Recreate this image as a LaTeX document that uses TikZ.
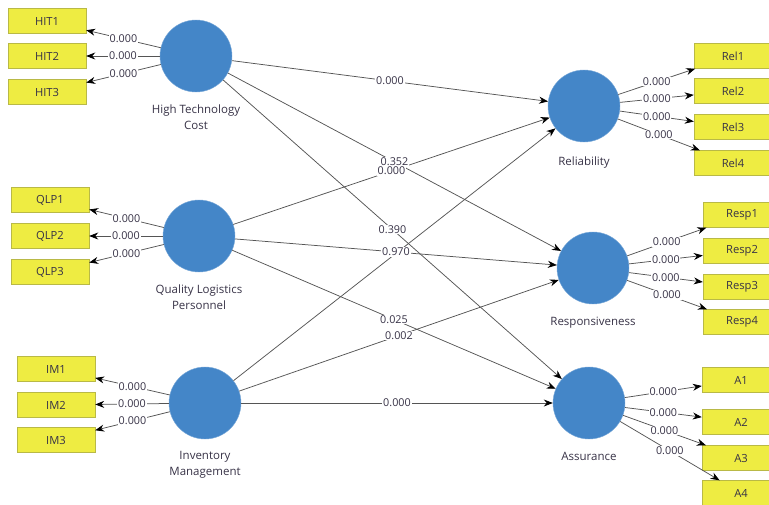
\documentclass[tikz,border=0pt]{standalone}
\usepackage{fontspec}
\setmainfont{Open Sans}
\usetikzlibrary{positioning,arrows.meta}
\definecolor{lvblue}{RGB}{68,134,200}
\definecolor{mvyellow}{RGB}{238,236,66}
\definecolor{mvborder}{RGB}{185,185,70}
\definecolor{pathgray}{RGB}{85,85,85}
\definecolor{txtgray}{RGB}{55,50,70}
\tikzset{
    latent/.style={circle, fill=lvblue, draw=lvblue!70, minimum size=72pt, inner sep=0pt},
    manifest/.style={rectangle, fill=mvyellow, draw=mvborder, minimum width=78pt, minimum height=25pt, inner sep=0pt, text=txtgray, font=\fontsize{11.2}{12}\selectfont},
    lvname/.style={align=center, inner sep=0pt, text=txtgray, font=\fontsize{11.5}{16}\selectfont},
    pval/.style={fill=white, inner sep=0.8pt, text=txtgray, font=\fontsize{10.8}{12}\selectfont},
    load/.style={draw=pathgray, line width=0.75pt, -{Stealth[length=9pt,width=7pt,black]}},
}
\begin{document}
\begin{tikzpicture}[x=1pt,y=-1pt]
    % Fix the canvas
    \useasboundingbox (0,0) rectangle (769,504);

    % Draw latent variables
    \node[latent] (htc) at (196,56) {};
    \node[latent] (qlp) at (199,236) {};
    \node[latent] (im) at (205,403) {};
    \node[latent] (rel) at (584,106) {};
    \node[latent] (resp) at (593,268) {};
    \node[latent] (assu) at (589,403) {};

    % Add names
    \node[lvname, below=12pt of htc] (htcname) {High Technology\\Cost};
    \node[lvname, below=12pt of qlp] (qlpname) {Quality Logistics\\Personnel};
    \node[lvname, below=12pt of im] (imname) {Inventory\\Management};
    \node[lvname, below=14pt of rel] (relname) {Reliability};
    \node[lvname, below=13pt of resp] (respname) {Responsiveness};
    \node[lvname, below=13pt of assu] (assuname) {Assurance};

    % Draw indicators
    \foreach \i/\y in {1/21,2/56,3/92}
        \node[manifest] (hit\i) at (47,\y) {HIT\i};
    \foreach \i/\y in {1/200,2/236,3/272}
        \node[manifest] (qlp\i) at (50,\y) {QLP\i};
    \foreach \i/\y in {1/369,2/405,3/440}
        \node[manifest] (im\i) at (56,\y) {IM\i};
    \foreach \i/\y in {1/56,2/91,3/127,4/163}
        \node[manifest] (rel\i) at (733,\y) {Rel\i};
    \foreach \i/\y in {1/215,2/251,3/287,4/322}
        \node[manifest] (resp\i) at (742,\y) {Resp\i};
    \foreach \i/\y in {1/380,2/422,3/458,4/493}
        \node[manifest] (a\i) at (741,\y) {A\i};

    % Draw loadings
    \foreach \i in {1,2,3} {
        \draw[load] (htc) -- node[pval] {0.000} (hit\i);
        \draw[load] (qlp) -- node[pval] {0.000} (qlp\i);
        \draw[load] (im) -- node[pval] {0.000} (im\i);
    }
    \foreach \i in {1,2,3,4} {
        \draw[load] (rel) -- node[pval] {0.000} (rel\i);
        \draw[load] (resp) -- node[pval] {0.000} (resp\i);
        \draw[load] (assu) -- node[pval] {0.000} (a\i);
    }

    % Draw structural paths
    \draw[load] (htc) -- coordinate (htcrel) (rel);
    \draw[load] (htc) -- coordinate (htcresp) (resp);
    \draw[load] (htc) -- coordinate (htcassu) (assu);
    \draw[load] (qlp) -- coordinate (qlprel) (rel);
    \draw[load] (qlp) -- coordinate (qlpresp) (resp);
    \draw[load] (qlp) -- coordinate (qlpassu) (assu);
    \draw[load] (im) -- (rel);
    \draw[load] (im) -- coordinate (imresp) (resp);
    \draw[load] (im) -- coordinate (imassu) (assu);

    % Add path values
    \node[pval] (vhtcrel) at (htcrel) {0.000};
    \node[pval] (vhtcresp) at (htcresp) {0.352};
    \node[pval] (vhtcassu) at (htcassu) {0.390};
    \node[pval] (vqlprel) at (qlprel) {0.000};
    \node[pval] (vqlpresp) at (qlpresp) {0.970};
    \node[pval] (vqlpassu) at (qlpassu) {0.025};
    \node[pval] (vimresp) at (imresp) {0.002};
    \node[pval] (vimassu) at (imassu) {0.000};
\end{tikzpicture}
\end{document}
